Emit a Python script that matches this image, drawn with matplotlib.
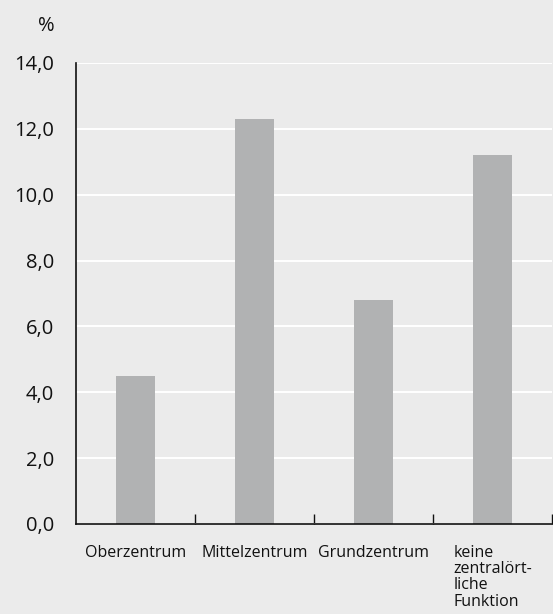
import numpy as np
import matplotlib.pyplot as plt
from matplotlib.ticker import FuncFormatter, FixedLocator

# Daten
kategorien = ['Oberzentrum', 'Mittelzentrum', 'Grundzentrum',
              'keine\nzentralört-\nliche\nFunktion']
werte = [4.5, 12.3, 6.8, 11.2]
y_ticks = [0, 2, 4, 6, 8, 10, 12, 14]

bg = '#ebebeb'
bar_col = '#b1b2b3'
plt.rcParams['font.family'] = ['Open Sans', 'DejaVu Sans']

fig = plt.figure(figsize=(5.53, 6.14), dpi=100, facecolor=bg)
ax = fig.add_axes([0.1374, 0.1466, 0.8608, 0.7508], facecolor=bg)

x = np.arange(len(kategorien))
ax.bar(x, werte, width=0.32, color=bar_col, zorder=2)

ax.set_xlim(-0.5, len(kategorien) - 0.5)
ax.set_ylim(0, 14)
ax.set_yticks(y_ticks)
ax.yaxis.set_major_formatter(FuncFormatter(lambda v, p: f'{v:.1f}'.replace('.', ',')))
ax.tick_params(axis='y', length=0, pad=16, labelsize=14.5, colors='#111111')
ax.grid(axis='y', color='white', linewidth=1.4, zorder=1)

# Kategorie-Grenzen als Ticks, Beschriftungen mittig
ax.xaxis.set_major_locator(FixedLocator(x + 0.5))
ax.xaxis.set_major_formatter(FuncFormatter(lambda v, p: ''))
ax.set_xticks(x, minor=True)
ax.set_xticklabels(kategorien, minor=True)
ax.tick_params(axis='x', which='major', direction='in', length=7, width=1, color='#111111')
ax.tick_params(axis='x', which='minor', length=0, pad=15, labelsize=11.5, colors='#111111')
for lab in ax.get_xticklabels(minor=True):
    lab.set_verticalalignment('top')
    lab.set_multialignment('left')
    lab.set_linespacing(1.02)

for s in ['top', 'right']:
    ax.spines[s].set_visible(False)
for s in ['left', 'bottom']:
    ax.spines[s].set_color('#111111')
    ax.spines[s].set_linewidth(1.2)

fig.text(55 / 553, 1 - 26 / 614, '%', ha='right', va='center', fontsize=14.5, color='#111111')

fig.savefig('out.png', dpi=100, facecolor=bg)
